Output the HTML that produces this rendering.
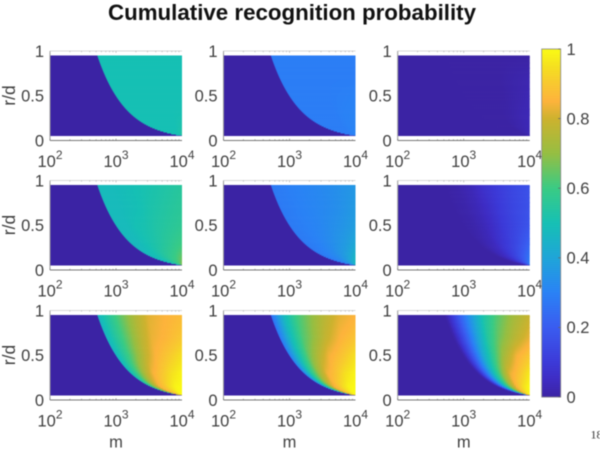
<!DOCTYPE html>
<html lang="en">
<head>
<meta charset="utf-8">
<title>Cumulative recognition probability</title>
<style>
html,body{margin:0;padding:0;background:#fff;width:600px;height:450px;overflow:hidden}
svg{display:block;filter:blur(.4px)}
text{font-family:"Liberation Sans",sans-serif;fill:#404040}
</style>
</head>
<body>
<svg id="chart" xmlns="http://www.w3.org/2000/svg" width="600" height="450" viewBox="0 0 600 450">
<rect width="600" height="450" fill="#fff"/>
<text x="292" y="20" text-anchor="middle" font-size="22.5" font-weight="bold" style="fill:#111" textLength="368" lengthAdjust="spacingAndGlyphs">Cumulative recognition probability</text>
<text x="590.5" y="438.5" font-size="12" style="font-family:'Liberation Serif',serif;fill:#333">18</text>
</svg>
<script>
// Relative position between the recognition edge (0) and the right side of the panel (1)
const edgeFractions = [0, 0.15, 0.3, 0.45, 0.6, 0.8, 1];
// r/d rows, top to bottom
const rLevels = [0.95, 0.7, 0.5, 0.3, 0.15, 0.05];
// m at which recognition begins for each r/d row
const edgeM = [520, 705, 990, 1650, 3300, 10000];

const panelR1C1 = [
  [0.5,0.5,0.5,0.5,0.5,0.5,0.5],
  [0.5,0.5,0.5,0.5,0.5,0.5,0.5],
  [0.5,0.5,0.5,0.5,0.5,0.5,0.5],
  [0.5,0.5,0.5,0.5,0.5,0.5,0.505],
  [0.5,0.5,0.5,0.5,0.5,0.5,0.52],
  [0.5,0.5,0.5,0.5,0.5,0.52,0.55]
];
const panelR1C2 = [
  [0.29,0.29,0.29,0.29,0.29,0.29,0.29],
  [0.29,0.29,0.29,0.29,0.29,0.29,0.29],
  [0.29,0.29,0.29,0.29,0.29,0.295,0.3],
  [0.29,0.29,0.29,0.29,0.29,0.3,0.305],
  [0.29,0.29,0.29,0.29,0.29,0.3,0.305],
  [0.29,0.29,0.29,0.29,0.29,0.3,0.31]
];
const panelR1C3 = [
  [0,0,0,0,0,0,0],
  [0,0,0,0,0,0.01,0.02],
  [0,0,0,0,0,0.012,0.025],
  [0,0,0,0,0.005,0.02,0.03],
  [0,0,0,0,0.01,0.02,0.03],
  [0,0,0,0,0.01,0.02,0.03]
];
const panelR2C1 = [
  [0.48,0.48,0.49,0.5,0.51,0.53,0.55],
  [0.48,0.48,0.49,0.5,0.52,0.54,0.56],
  [0.48,0.48,0.5,0.51,0.53,0.55,0.57],
  [0.47,0.48,0.5,0.52,0.54,0.57,0.6],
  [0.48,0.49,0.51,0.54,0.57,0.6,0.65],
  [0.48,0.5,0.53,0.56,0.6,0.64,0.7]
];
const panelR2C2 = [
  [0.28,0.29,0.3,0.31,0.32,0.34,0.36],
  [0.28,0.29,0.3,0.31,0.32,0.34,0.37],
  [0.28,0.29,0.3,0.31,0.33,0.35,0.38],
  [0.28,0.29,0.3,0.32,0.34,0.37,0.41],
  [0.28,0.29,0.31,0.33,0.36,0.4,0.46],
  [0.28,0.3,0.32,0.35,0.39,0.44,0.5]
];
const panelR2C3 = [
  [0,0.01,0.03,0.07,0.1,0.14,0.17],
  [0,0.01,0.03,0.06,0.1,0.14,0.17],
  [0,0.01,0.03,0.06,0.1,0.14,0.18],
  [0,0.02,0.04,0.08,0.11,0.16,0.22],
  [0,0.03,0.06,0.1,0.14,0.2,0.27],
  [0,0.04,0.08,0.13,0.18,0.24,0.32]
];
const panelR3C1 = [
  [0.46,0.56,0.66,0.75,0.82,0.85,0.87],
  [0.46,0.56,0.66,0.76,0.83,0.86,0.9],
  [0.46,0.57,0.68,0.78,0.85,0.9,0.95],
  [0.47,0.62,0.76,0.85,0.89,0.95,0.99],
  [0.5,0.72,0.85,0.89,0.94,0.99,1],
  [0.5,0.75,0.87,0.91,0.96,1,1]
];
const panelR3C2 = [
  [0.25,0.47,0.6,0.68,0.75,0.82,0.85],
  [0.27,0.48,0.62,0.7,0.78,0.85,0.89],
  [0.29,0.5,0.66,0.76,0.84,0.89,0.95],
  [0.3,0.56,0.72,0.84,0.88,0.95,0.99],
  [0.32,0.62,0.83,0.88,0.94,0.99,1],
  [0.35,0.7,0.85,0.91,0.96,1,1]
];
const panelR3C3 = [
  [0,0.18,0.36,0.52,0.62,0.72,0.79],
  [0,0.18,0.38,0.55,0.66,0.76,0.83],
  [0,0.2,0.42,0.58,0.72,0.84,0.9],
  [0,0.24,0.48,0.66,0.82,0.89,0.97],
  [0.01,0.3,0.56,0.75,0.86,0.95,1],
  [0.02,0.35,0.65,0.82,0.91,0.98,1]
];

const xTickExponents = [2, 3, 4];
const yTickValues = [0, 0.5, 1];
const yTickLabels = ["0", "0.5", "1"];
const colorbarTickValues = [0, 0.2, 0.4, 0.6, 0.8, 1];
const colorbarTickLabels = ["0", "0.2", "0.4", "0.6", "0.8", "1"];
const colormapLevels = [0, 0.05, 0.1, 0.2, 0.3, 0.4, 0.5, 0.6, 0.7, 0.8, 0.85, 0.9, 0.95, 1];
const colormapColors = [
  [60,36,164],[62,44,195],[60,58,216],[58,92,240],[42,130,245],[31,165,216],
  [22,192,180],[58,203,132],[150,190,66],[205,178,46],[253,179,60],[248,200,48],[245,224,32],[250,250,20]
];

const NS = 'http://www.w3.org/2000/svg';
const svg = document.getElementById('chart');
const panelLefts = [50, 223.5, 397.7];
const panelTops = [51, 180.5, 310.5];
const panelW = 132;
const panelH = 89.5;
const CELL_W = 2;
const CELL_H = 1;
const panelValues = [
  [panelR1C1, panelR1C2, panelR1C3],
  [panelR2C1, panelR2C2, panelR2C3],
  [panelR3C1, panelR3C2, panelR3C3]
];

function make(tag, attrs, parent) {
  const el = document.createElementNS(NS, tag);
  for (const k in attrs) el.setAttribute(k, attrs[k]);
  parent.appendChild(el);
  return el;
}
function colorOf(v) {
  const c = Math.max(0, Math.min(1, v));
  let i = 0;
  while (i < colormapLevels.length - 2 && c > colormapLevels[i + 1]) i++;
  const f = (c - colormapLevels[i]) / (colormapLevels[i + 1] - colormapLevels[i]);
  const a = colormapColors[i], b = colormapColors[i + 1];
  return 'rgb(' + [0, 1, 2].map(k => Math.round(a[k] + (b[k] - a[k]) * f)).join(',') + ')';
}
function xScale(left, logM) { return left + (logM - 2) / 2 * panelW; }
function xInverse(left, px) { return 2 + (px - left) / panelW * 2; }
function yScale(top, r) { return top + (1 - r) * panelH; }
function yInverse(top, py) { return 1 - (py - top) / panelH; }
function rowPosition(r) {
  const lr = Math.log10(Math.max(0.05, Math.min(0.95, r)));
  for (let i = 0; i < rLevels.length - 1; i++) {
    const a = Math.log10(rLevels[i]), b = Math.log10(rLevels[i + 1]);
    if (lr <= a && lr >= b) return [i, (a - lr) / (a - b)];
  }
  return [rLevels.length - 2, 1];
}
function edgeLogM(r) {
  const [row, fr] = rowPosition(r);
  return Math.log10(edgeM[row]) * (1 - fr) + Math.log10(edgeM[row + 1]) * fr;
}
function sampleValue(values, logM, r) {
  const [row, fr] = rowPosition(r);
  const edge = edgeLogM(r);
  const t = Math.max(0, Math.min(1, (logM - edge) / Math.max(0.001, 4 - edge)));
  let col = 0;
  while (col < edgeFractions.length - 2 && t > edgeFractions[col + 1]) col++;
  const fc = (t - edgeFractions[col]) / (edgeFractions[col + 1] - edgeFractions[col]);
  const top = values[row][col] * (1 - fc) + values[row][col + 1] * fc;
  const bot = values[row + 1][col] * (1 - fc) + values[row + 1][col + 1] * fc;
  return top * (1 - fr) + bot * fr;
}

function drawPanel(rowIdx, colIdx) {
  const left = panelLefts[colIdx], top = panelTops[rowIdx];
  const right = left + panelW;
  const bottom = top + panelH;
  const values = panelValues[rowIdx][colIdx];
  const g = make('g', {}, svg);
  
  

  const y0 = yScale(top, 0.95), y1 = yScale(top, 0.05);
  for (let py = y0; py < y1; py += CELL_H) {
    const h = Math.min(CELL_H + 0.3, y1 - py);
    const r = yInverse(top, py + CELL_H / 2);
    const edgeX = Math.min(right, xScale(left, edgeLogM(r)));
    const darkW = Math.min(edgeX + 1, right) - left;
    const dark = make('rect', {x: left.toFixed(2), y: py.toFixed(2), width: darkW.toFixed(2), height: h.toFixed(2), fill: colorOf(0)}, g);
    
    
    for (let px = edgeX; px < right; px += CELL_W) {
      const w = Math.min(CELL_W + 0.3, right - px);
      const v = sampleValue(values, xInverse(left, px + CELL_W / 2), r);
      const cell = make('rect', {x: px.toFixed(2), y: py.toFixed(2), width: w.toFixed(2), height: h.toFixed(2), fill: colorOf(v)}, g);
      
      
    }
  }

  const topLine = make('line', {x1: left, x2: right, y1: top, y2: top, stroke: '#d8d8d8', 'stroke-width': 1}, g);
  
  
  const bottomLine = make('line', {x1: left, x2: right, y1: bottom, y2: bottom, stroke: '#777', 'stroke-width': 1}, g);
  
  
  const leftLine = make('line', {x1: left, x2: left, y1: top, y2: bottom, stroke: '#999', 'stroke-width': 1}, g);
  
  

  for (let e = 2; e < 4; e++) {
    for (let k = 1; k <= 9; k++) {
      const x = xScale(left, e + Math.log10(k));
      const len = k === 1 ? 1.8 : 1.1;
      const tb = make('line', {x1: x, x2: x, y1: bottom, y2: bottom - len, stroke: '#777', 'stroke-width': 0.7}, g);
      
      
      const tt = make('line', {x1: x, x2: x, y1: top, y2: top + len, stroke: '#aaa', 'stroke-width': 0.7}, g);
      
      
    }
  }

  yTickValues.forEach((val, i) => {
    const t = make('text', {x: left - 6, y: yScale(top, val) + 5.8, 'text-anchor': 'end', 'font-size': 16.5}, g);
    t.textContent = yTickLabels[i];
    
    
  });

  xTickExponents.forEach(exp => {
    const t = make('text', {x: xScale(left, exp), y: bottom + 26.3, 'text-anchor': 'middle', 'font-size': 16.5}, g);
    
    
    const base = make('tspan', {}, t);
    base.textContent = '10';
    const sup = make('tspan', {dy: -8, 'font-size': 12}, t);
    sup.textContent = String(exp);
  });

  if (colIdx === 0) {
    const cy = top + 44.5;
    const yTitle = make('text', {x: 15, y: cy, 'text-anchor': 'middle', 'font-size': 17.5, transform: 'rotate(-90 15 ' + cy + ')'}, g);
    yTitle.textContent = 'r/d';
    
    
  }
  if (rowIdx === 2) {
    const xTitle = make('text', {x: left + panelW / 2, y: 447.5, 'text-anchor': 'middle', 'font-size': 16.5}, g);
    xTitle.textContent = 'm';
    
    
  }
}

for (let r = 0; r < 3; r++) for (let c = 0; c < 3; c++) drawPanel(r, c);

function drawColorbar() {
  const left = 541.7, width = 19, top = 49, height = 348;
  const g = make('g', {}, svg);
  
  
  const cbY = v => top + (1 - v) * height;
  make('rect', {x: left, y: top, width: width, height: height, fill: '#fff'}, g);
  for (let py = 0; py < height; py += 2) {
    const swatch = make('rect', {
      x: left, y: top + py, width: width, height: 2.4,
      fill: colorOf(1 - (py + 1) / height)
    }, g);
    
    
  }
  const frame = make('rect', {x: left, y: top, width: width, height: height, fill: 'none', stroke: '#888', 'stroke-width': 0.8}, g);
  
  
  colorbarTickValues.forEach((v, i) => {
    const y = cbY(v);
    const tick = make('line', {x1: left + width - 2.5, x2: left + width, y1: y, y2: y, stroke: '#666', 'stroke-width': 0.8}, g);
    
    
    const label = make('text', {x: 566.5, y: y + 5.8, 'font-size': 16.5}, g);
    label.textContent = colorbarTickLabels[i];
    
    
  });
}
drawColorbar();
</script>
</body>
</html>
